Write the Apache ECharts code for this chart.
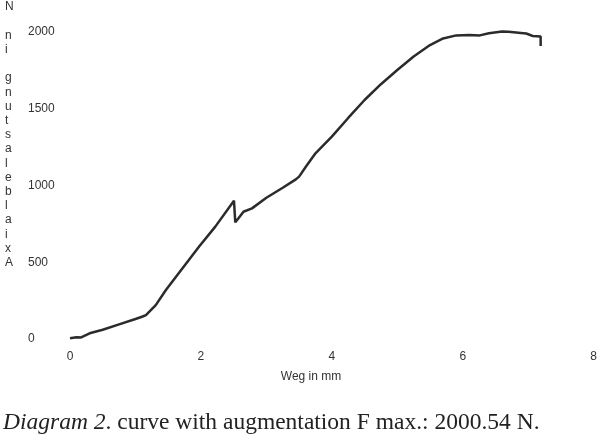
<!DOCTYPE html>
<html>
<head>
<meta charset="utf-8">
<script src="https://cdn.jsdelivr.net/npm/echarts@6/dist/echarts.min.js"></script>
<style>html,body{margin:0;padding:0;background:#fff;}#c{width:600px;height:443px;}</style>
</head>
<body>
<div id="c"></div>
<script>
// Data
var wegMm = [0, 0.1, 0.17, 0.3, 0.5, 0.75, 1.0, 1.1, 1.16, 1.25, 1.31, 1.465, 1.97, 2.22, 2.505, 2.525, 2.58, 2.65, 2.78, 3.0, 3.25, 3.45, 3.5, 3.6, 3.75, 4.0, 4.25, 4.5, 4.75, 5.0, 5.25, 5.5, 5.7, 5.9, 6.1, 6.26, 6.4, 6.6, 6.7, 6.85, 6.97, 7.07, 7.19, 7.19];
var kraftN = [5, 12, 10, 37, 60, 95, 130, 145, 156, 195, 221, 319, 601, 732, 901, 760, 790, 829, 851, 920, 985, 1040, 1058, 1120, 1210, 1318, 1440, 1557, 1660, 1752, 1840, 1915, 1958, 1978, 1980, 1978, 1992, 2003, 2001, 1995, 1990, 1974, 1970, 1909];
var xTicks = [0, 2, 4, 6, 8];
var yTicks = [0, 500, 1000, 1500, 2000];
var xAxisTitle = 'Weg in mm';
var yAxisTitle = 'Axialbelastung in N';
var captionItalic = 'Diagram 2';
var captionRest = '. curve with augmentation F max.: 2000.54 N.';

var points = wegMm.map(function (x, i) { return [x, kraftN[i]]; });
var stacked = yAxisTitle.split('').reverse().map(function (ch) { return ch === ' ' ? '' : ch; }).join('\n');

var chart = echarts.init(document.getElementById('c'), null, { renderer: 'canvas' });
chart.setOption({
  backgroundColor: '#ffffff',
  animation: false,
  grid: { left: 70, right: 3, top: 32, bottom: 104, containLabel: false },
  xAxis: {
    type: 'value',
    min: xTicks[0], max: xTicks[xTicks.length - 1], interval: 2,
    axisLine: { show: false }, axisTick: { show: false }, splitLine: { show: false },
    axisLabel: { color: '#333', fontSize: 12, fontFamily: 'Liberation Sans, Arial, sans-serif', margin: 12,
      formatter: function (v) { return String(v); } }
  },
  yAxis: {
    type: 'value',
    min: yTicks[0], max: yTicks[yTicks.length - 1], interval: 500,
    axisLine: { show: false }, axisTick: { show: false }, splitLine: { show: false },
    axisLabel: { color: '#333', fontSize: 12, fontFamily: 'Liberation Sans, Arial, sans-serif', align: 'left', margin: 42,
      formatter: function (v) { return String(v); } }
  },
  series: [{
    type: 'line',
    data: points,
    showSymbol: false,
    clip: false,
    lineStyle: { color: '#2b2b2b', width: 2.5 },
    emphasis: { disabled: true }
  }],
  graphic: [
    {
      type: 'text', left: 5, top: 0,
      style: { text: stacked, fill: '#333', font: '12px "Liberation Sans", Arial, sans-serif', lineHeight: 14.2, align: 'left' }
    },
    {
      type: 'text', x: 311, y: 377,
      style: { text: xAxisTitle, fill: '#333', font: '12px "Liberation Sans", Arial, sans-serif', align: 'center', verticalAlign: 'middle' }
    },
    {
      type: 'text', x: 3, y: 435,
      style: {
        text: '{i|' + captionItalic + '}{n|' + captionRest + '}',
        verticalAlign: 'bottom',
        rich: {
          i: { fontFamily: 'Liberation Serif, serif', fontStyle: 'italic', fontSize: 23.5, fill: '#222' },
          n: { fontFamily: 'Liberation Serif, serif', fontSize: 23.5, fill: '#222' }
        }
      }
    }
  ]
});
</script>
</body>
</html>
